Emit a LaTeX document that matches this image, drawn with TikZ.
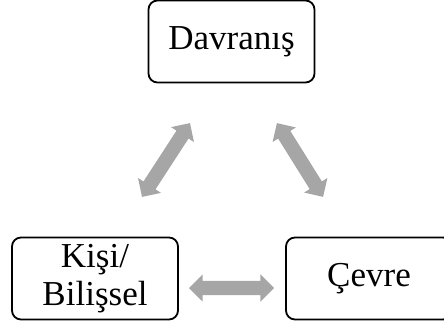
\documentclass[tikz,border=0pt]{standalone}
\usepackage{fontspec}
\setmainfont{Liberation Serif}
\usetikzlibrary{shapes.arrows}
\definecolor{arrgray}{HTML}{A6A6A6}
\begin{document}
\begin{tikzpicture}[x=1pt,y=-1pt,
  box/.style={draw=black, line width=1.8pt, rounded corners=9pt, minimum width=166pt, minimum height=82pt, inner sep=0pt, align=center, font=\fontsize{35}{38}\selectfont},
  dbl/.style={double arrow, fill=arrgray, draw=none, inner sep=7pt, minimum height=#1, double arrow head extend=6.5pt, double arrow tip angle=90}]
\useasboundingbox (0,0) rectangle (444,329);
\node[box] (dav) at (231.5,41.5) {Davranış};
\node[box] (kisi) at (95,278.5) {Kişi/\\Bilişsel};
\node[box] (cevre) at (369,278.5) {Çevre};
\node[dbl=85pt] (a1) at (231.5,288) {};
\node[dbl=88pt, rotate=57] (a2) at (166,160) {};
\node[dbl=87pt, rotate=-58] (a3) at (300,160) {};
\end{tikzpicture}
\end{document}
